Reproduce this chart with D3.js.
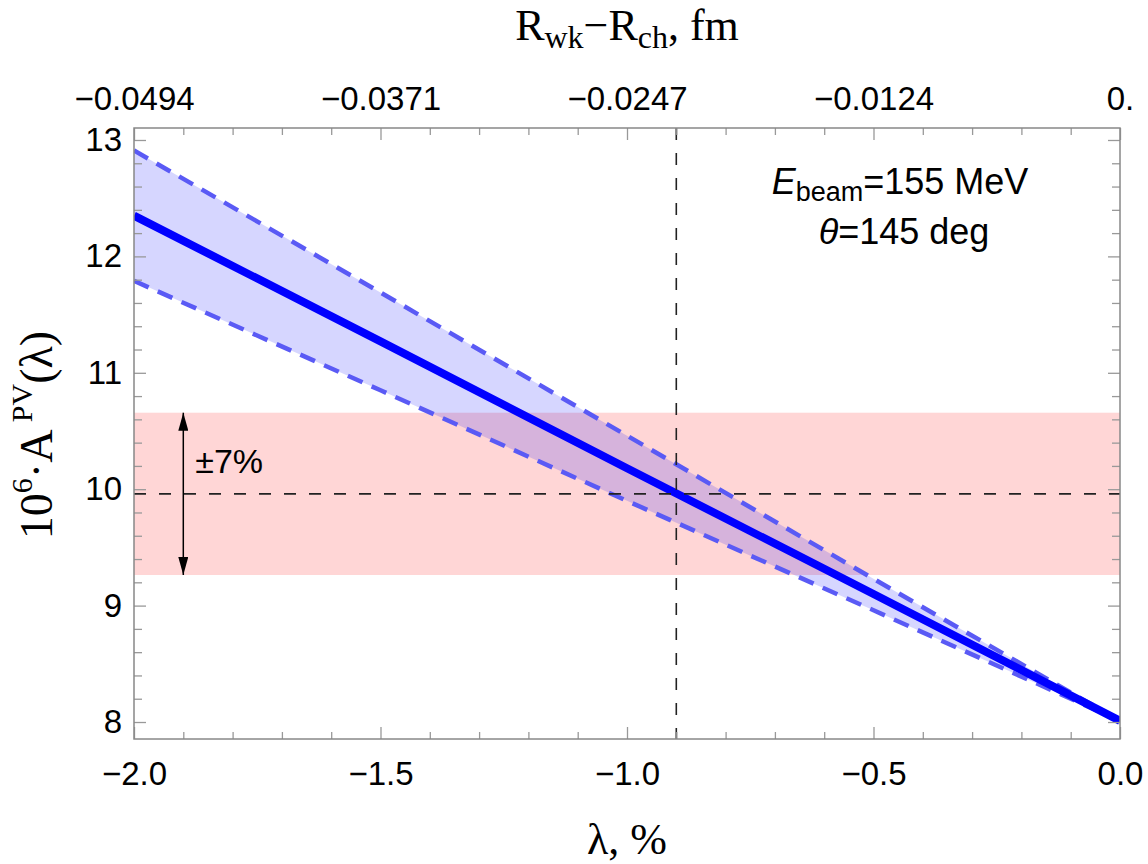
<!DOCTYPE html>
<html>
<head>
  <meta charset="utf-8">
  <script src="https://d3js.org/d3.v7.min.js"></script>
  <style>
    body { margin: 0; background: #fff; }
    .tick line { stroke: #999; stroke-width: 1.3; }
    .domain { display: none; }
    .tick text { font-family: "Liberation Sans", Arial, sans-serif; font-size: 33px; fill: #000; }
    .serif { font-family: "Liberation Serif", "Times New Roman", serif; fill: #000; }
    .sans { font-family: "Liberation Sans", Arial, sans-serif; fill: #000; }
  </style>
</head>
<body>
  <svg id="chart" width="1148" height="864"></svg>
  <script>
    // ---- data
    const lambdaPts = [-2.0, -1.5, -1.0, -0.5, 0.0];          // lambda, %
    const centralA = [12.35, 11.27, 10.18, 9.10, 8.01];      // 10^6 A^PV, central
    const upperA = [12.91, 11.69, 10.46, 9.23, 8.01];        // upper dashed
    const lowerA = [11.79, 10.85, 9.90, 8.96, 8.01];         // lower dashed

    const refLambda = -0.9;   // vertical dashed line
    const refA = 9.96;        // horizontal dashed line
    const bandPct = 7;        // +-7% band
    const arrowLambda = -1.9;

    const xMajor = [-2.0, -1.5, -1.0, -0.5, 0.0];
    const topLabels = ["\u22120.0494", "\u22120.0371", "\u22120.0247", "\u22120.0124", "0."];
    const yMajor = [8, 9, 10, 11, 12, 13];

    const svg = d3.select("svg#chart");
    const margin = { top: 128, right: 28, bottom: 125, left: 134 };
    const width = +svg.attr("width");
    const height = +svg.attr("height");
    const chartWidth = width - margin.left - margin.right;
    const chartHeight = height - margin.top - margin.bottom;

    const x = d3.scaleLinear().domain([-2, 0]).range([0, chartWidth]);
    const y = d3.scaleLinear().domain([7.854, 13.103]).range([chartHeight, 0]);

    const xMinor = d3.range(-20, 1).map(d => d / 10).filter(d => !xMajor.some(m => Math.abs(m - d) < 1e-9));
    const yMinor = d3.range(40, 66).map(d => d / 5).filter(d => d <= 13.1 && !yMajor.includes(d));

    const chart = svg.append("g").attr("transform", `translate(${margin.left},${margin.top})`);

    svg.append("defs").append("clipPath").attr("id", "clip")
      .append("rect").attr("width", chartWidth).attr("height", chartHeight);

    svg.select("defs").append("marker")
      .attr("id", "arrow")
      .attr("viewBox", "0 0 18 10")
      .attr("refX", 18).attr("refY", 5)
      .attr("markerWidth", 18).attr("markerHeight", 10)
      .attr("markerUnits", "userSpaceOnUse")
      .attr("orient", "auto-start-reverse")
      .append("path").attr("d", "M0,0 L18,5 L0,10 Z").attr("fill", "#000");

    const plot = chart.append("g").attr("clip-path", "url(#clip)");

    // pink +-7% band
    const bandLo = refA * (1 - bandPct / 100);
    const bandHi = refA * (1 + bandPct / 100);
    plot.append("rect")
      .attr("x", 0).attr("width", chartWidth)
      .attr("y", y(bandHi)).attr("height", y(bandLo) - y(bandHi))
      .attr("fill", "rgba(255,0,0,0.16)");

    // blue uncertainty band
    const area = d3.area()
      .x((d, i) => x(lambdaPts[i]))
      .y0((d, i) => y(lowerA[i]))
      .y1((d, i) => y(upperA[i]));
    plot.append("path").datum(centralA).attr("d", area).attr("fill", "rgba(0,0,255,0.16)");

    const line = d3.line().x((d, i) => x(lambdaPts[i])).y(d => y(d));
    [upperA, lowerA].forEach(arr => {
      plot.append("path").datum(arr).attr("d", line)
        .attr("fill", "none").attr("stroke", "#5a5af5")
        .attr("stroke-width", 4.5).attr("stroke-dasharray", "16,10");
    });
    plot.append("path").datum(centralA).attr("d", line)
      .attr("fill", "none").attr("stroke", "#0000ff").attr("stroke-width", 8);

    // black dashed reference lines
    plot.append("line")
      .attr("x1", 0).attr("x2", chartWidth).attr("y1", y(refA)).attr("y2", y(refA))
      .attr("stroke", "#222").attr("stroke-width", 1.6).attr("stroke-dasharray", "12,13");
    plot.append("line")
      .attr("x1", x(refLambda)).attr("x2", x(refLambda)).attr("y1", 0).attr("y2", chartHeight)
      .attr("stroke", "#222").attr("stroke-width", 1.6).attr("stroke-dasharray", "12,13");

    // double arrow
    chart.append("line")
      .attr("x1", x(arrowLambda)).attr("x2", x(arrowLambda))
      .attr("y1", y(bandHi)).attr("y2", y(bandLo))
      .attr("stroke", "#000").attr("stroke-width", 1.5)
      .attr("marker-start", "url(#arrow)").attr("marker-end", "url(#arrow)");
    chart.append("text").attr("class", "sans")
      .attr("x", x(arrowLambda) + 12).attr("y", y(refA) - 21)
      .attr("font-size", 34).text("\u00b17%");

    // axes
    chart.append("g").attr("transform", `translate(0,${chartHeight})`)
      .call(d3.axisBottom(x).tickValues(xMinor).tickSize(-7).tickFormat(""));
    chart.append("g").attr("transform", `translate(0,${chartHeight})`)
      .call(d3.axisBottom(x).tickValues(xMajor).tickSize(-12).tickPadding(23).tickFormat(d3.format(".1f")));
    chart.append("g")
      .call(d3.axisTop(x).tickValues(xMinor).tickSize(-7).tickFormat(""));
    chart.append("g")
      .call(d3.axisTop(x).tickValues(xMajor).tickSize(-12).tickPadding(18).tickFormat((d, i) => topLabels[i]));
    chart.append("g")
      .call(d3.axisLeft(y).tickValues(yMinor).tickSize(-8).tickFormat(""));
    chart.append("g")
      .call(d3.axisLeft(y).tickValues(yMajor).tickSize(-12).tickPadding(12).tickFormat(d3.format("d")));
    chart.append("g").attr("transform", `translate(${chartWidth},0)`)
      .call(d3.axisRight(y).tickValues(yMinor).tickSize(-8).tickFormat(""));
    chart.append("g").attr("transform", `translate(${chartWidth},0)`)
      .call(d3.axisRight(y).tickValues(yMajor).tickSize(-12).tickFormat(""));

    chart.append("rect").attr("width", chartWidth).attr("height", chartHeight)
      .attr("fill", "none").attr("stroke", "#888").attr("stroke-width", 1.5);

    // annotation
    const ann = chart.append("g").attr("class", "sans").attr("font-size", 36).attr("text-anchor", "middle");
    const t1 = ann.append("text").attr("x", 900 - margin.left).attr("y", 194 - margin.top);
    t1.append("tspan").attr("font-style", "italic").text("E");
    t1.append("tspan").attr("font-size", 27).attr("dy", 7).text("beam");
    t1.append("tspan").attr("dy", -7).text("=155 MeV");
    const t2 = ann.append("text").attr("x", 904 - margin.left).attr("y", 244 - margin.top);
    t2.append("tspan").attr("font-style", "italic").text("\u03b8");
    t2.append("tspan").text("=145 deg");

    // axis titles
    const topTitle = svg.append("text").attr("class", "serif").attr("font-size", 44)
      .attr("text-anchor", "middle").attr("x", margin.left + chartWidth / 2).attr("y", 40);
    topTitle.append("tspan").text("R");
    topTitle.append("tspan").attr("font-size", 32).attr("dy", 8).text("wk");
    topTitle.append("tspan").attr("dy", -8).text("\u2212R");
    topTitle.append("tspan").attr("font-size", 32).attr("dy", 8).text("ch");
    topTitle.append("tspan").attr("dy", -8).text(", fm");

    svg.append("text").attr("class", "serif").attr("font-size", 44)
      .attr("text-anchor", "middle").attr("x", margin.left + chartWidth / 2).attr("y", 854)
      .text("\u03bb, %");

    const yl = svg.append("text").attr("class", "serif").attr("font-size", 46)
      .attr("text-anchor", "middle")
      .attr("transform", `translate(52,435) rotate(-90)`);
    yl.append("tspan").text("10");
    yl.append("tspan").attr("font-size", 30).attr("dy", -20).text("6");
    yl.append("tspan").attr("dy", 20).text("\u00b7A");
    yl.append("tspan").attr("font-size", 30).attr("dy", -20).text(" PV");
    yl.append("tspan").attr("dy", 20).text("(\u03bb)");
  </script>
</body>
</html>
